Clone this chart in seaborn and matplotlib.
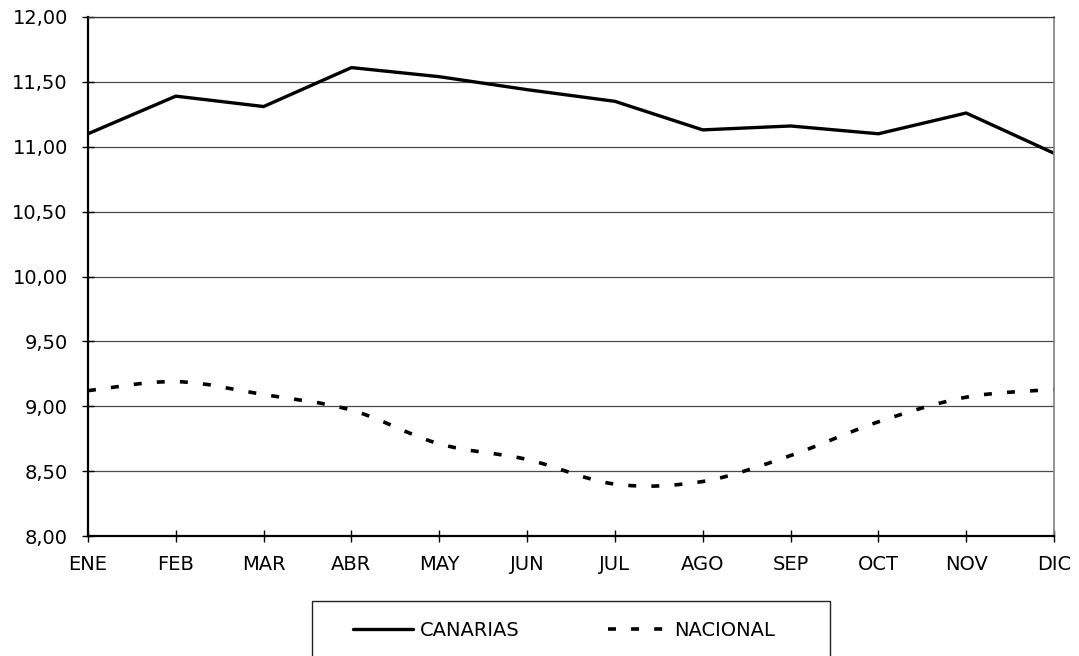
import numpy as np
import pandas as pd
import seaborn as sns
import matplotlib.pyplot as plt
from matplotlib.path import Path
from matplotlib.patches import PathPatch, Rectangle
from matplotlib.lines import Line2D
from matplotlib.ticker import FuncFormatter, MultipleLocator

months = ['ENE', 'FEB', 'MAR', 'ABR', 'MAY', 'JUN', 'JUL', 'AGO', 'SEP', 'OCT', 'NOV', 'DIC']
canarias = [11.10, 11.39, 11.31, 11.61, 11.54, 11.44, 11.35, 11.13, 11.16, 11.10, 11.26, 10.95]
nacional = [9.12, 9.19, 9.09, 8.97, 8.71, 8.59, 8.40, 8.42, 8.62, 8.88, 9.07, 9.13]

sns.set_style('white')
plt.rcParams['font.family'] = ['DejaVu Sans']
plt.rcParams['text.color'] = 'black'


def smooth_path(xs, ys):
    # excel-like smoothed line: bezier segments through the data points
    pts = np.column_stack([xs, ys])
    n = len(pts)
    verts = [pts[0]]
    codes = [Path.MOVETO]
    for i in range(n - 1):
        p0 = pts[max(i - 1, 0)]
        p1 = pts[i]
        p2 = pts[i + 1]
        p3 = pts[min(i + 2, n - 1)]
        verts += [p1 + (p2 - p0) / 6, p2 - (p3 - p1) / 6, p2]
        codes += [Path.CURVE4] * 3
    return Path(verts, codes)


fig = plt.figure(figsize=(10.79, 6.56), dpi=100)
ax = fig.add_axes([88 / 1079, 1 - 536 / 656, (1054 - 88) / 1079, (536 - 17) / 656])

df = pd.DataFrame({'mes': months, 'canarias': canarias, 'nacional': nacional})
sns.lineplot(data=df, x='mes', y='canarias', ax=ax, color='black', lw=2.4, sort=False)
sns.lineplot(data=df, x='mes', y='nacional', ax=ax, color='black', lw=2.4, sort=False)

# replace the straight nacional line with a smoothed dashed curve
nac_line = ax.lines[1]
xs = np.asarray(nac_line.get_xdata(), dtype=float)
ys = np.asarray(nac_line.get_ydata(), dtype=float)
nac_line.set_visible(False)
ax.add_patch(PathPatch(smooth_path(xs, ys), fill=False, edgecolor='black',
                       lw=2.6, linestyle=(0, (2.2, 4.2)), capstyle='butt'))

ax.set_xlim(0, 11)
ax.set_ylim(8, 12)
ax.yaxis.set_major_locator(MultipleLocator(0.5))
ax.yaxis.set_major_formatter(FuncFormatter(lambda v, p: f'{v:.2f}'.replace('.', ',')))
ax.set_xlabel('')
ax.set_ylabel('')

ax.yaxis.grid(True, color='#4a4a4a', lw=0.9)
ax.xaxis.grid(False)

ax.spines['left'].set_color('black')
ax.spines['left'].set_linewidth(1.6)
ax.spines['bottom'].set_color('black')
ax.spines['bottom'].set_linewidth(1.6)
ax.spines['top'].set_color('#303030')
ax.spines['top'].set_linewidth(0.9)
ax.spines['right'].set_color('#808080')
ax.spines['right'].set_linewidth(1.2)

ax.tick_params(axis='both', which='major', bottom=True, left=True, direction='inout',
               length=9, width=1, color='black', labelsize=14, labelcolor='black')
ax.tick_params(axis='y', pad=10)
ax.tick_params(axis='x', pad=9)

handles = [Line2D([], [], color='black', lw=2.4),
           Line2D([], [], color='black', lw=2.6, linestyle=(0, (2.2, 4.2)))]
fig.legend(handles, ['CANARIAS', 'NACIONAL'], loc='center',
           bbox_to_anchor=(564 / 1079, 1 - 630 / 656), ncol=2, frameon=False,
           fontsize=14, handlelength=3.1, handletextpad=0.32, columnspacing=4.55,
           labelcolor='black')
fig.patches.append(Rectangle((312 / 1079, -0.05), (830 - 312) / 1079, 1 - 601 / 656 + 0.05,
                             transform=fig.transFigure, fill=False, edgecolor='#222222', lw=1))

fig.savefig('out.png', dpi=100)
